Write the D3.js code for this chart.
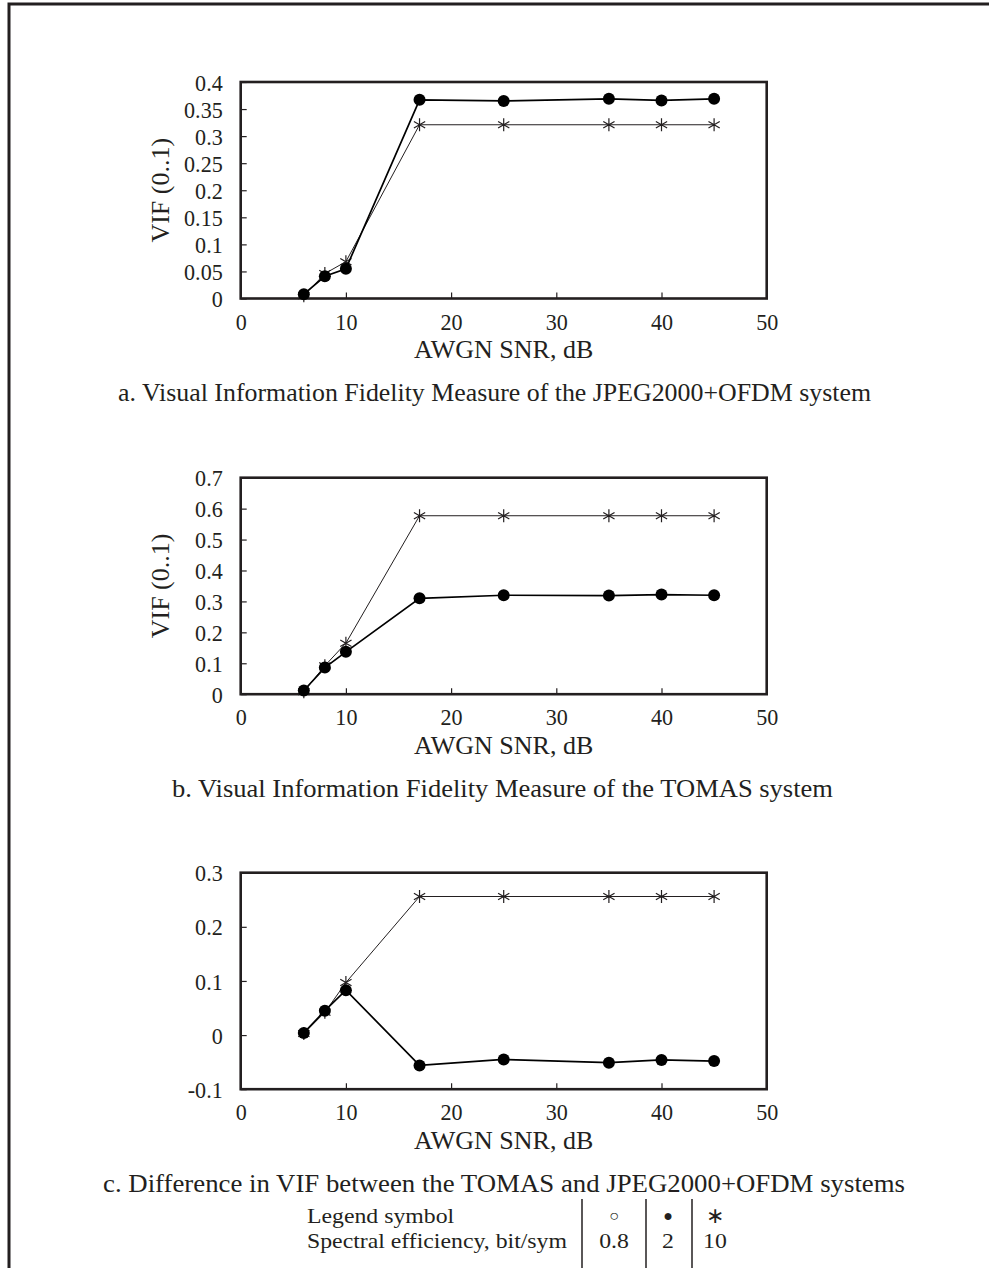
<!DOCTYPE html>
<html>
<head>
<meta charset="utf-8">
<script src="https://cdn.jsdelivr.net/npm/d3@7"></script>
<style>
  html, body { margin: 0; padding: 0; background: #fff; }
  svg text { font-family: "Liberation Serif", "Times New Roman", serif; fill: #231f20; }
</style>
</head>
<body>
<svg id="fig" width="989" height="1268"></svg>
<script>
// SNR points shared by every panel (dB)
const snr = [6, 8, 10, 17, 25, 35, 40, 45];
const xTicks = [0, 10, 20, 30, 40, 50];

// Panel a: JPEG2000+OFDM
const vifJpegQam = [0.008, 0.041, 0.055, 0.367, 0.365, 0.369, 0.366, 0.369];   // 2 bit/sym
const vifJpegHigh = [0.005, 0.046, 0.068, 0.321, 0.321, 0.321, 0.321, 0.321];  // 10 bit/sym
const ticksA = [0, 0.05, 0.1, 0.15, 0.2, 0.25, 0.3, 0.35, 0.4];

// Panel b: TOMAS
const vifTomasQam = [0.012, 0.086, 0.137, 0.310, 0.320, 0.319, 0.322, 0.320];
const vifTomasHigh = [0.008, 0.092, 0.165, 0.577, 0.577, 0.577, 0.577, 0.577];
const ticksB = [0, 0.1, 0.2, 0.3, 0.4, 0.5, 0.6, 0.7];

// Panel c: TOMAS minus JPEG2000+OFDM
const vifDiffQam = [0.004, 0.045, 0.083, -0.056, -0.045, -0.051, -0.046, -0.048];
const vifDiffHigh = [0.003, 0.042, 0.097, 0.256, 0.256, 0.256, 0.256, 0.256];
const ticksC = [-0.1, 0, 0.1, 0.2, 0.3];

const captions = [
  "a. Visual Information Fidelity Measure of the JPEG2000+OFDM system",
  "b. Visual Information Fidelity Measure of the TOMAS system",
  "c. Difference in VIF between the TOMAS and JPEG2000+OFDM systems"
];
const legendRows = ["Legend symbol", "Spectral efficiency, bit/sym"];
const legendSymbols = ["\u25CB", "\u25CF", "\u2217"];
const legendEfficiency = ["0.8", "2", "10"];

const ink = "#231f20";
const svg = d3.select("#fig");

// page frame, open to the right and bottom
svg.append("path")
  .attr("d", "M9,1280V4H1000")
  .attr("fill", "none").attr("stroke", ink).attr("stroke-width", 3);

const plotLeft = 240.7, plotRight = 766.7, plotH = 216.5;
const x = d3.scaleLinear().domain([0, 50]).range([plotLeft, plotRight]);
const fmt = v => String(+v.toFixed(2));

const panels = [
  { top: 82, domain: [0, 0.4], ticks: ticksA, qam: vifJpegQam, high: vifJpegHigh, yTitle: "VIF (0..1)", caption: captions[0], cx: 494.5, cw: 753 },
  { top: 477.7, domain: [0, 0.7], ticks: ticksB, qam: vifTomasQam, high: vifTomasHigh, yTitle: "VIF (0..1)", caption: captions[1], cx: 502.5, cw: 661 },
  { top: 872.7, domain: [-0.1, 0.3], ticks: ticksC, qam: vifDiffQam, high: vifDiffHigh, yTitle: null, caption: captions[2], cx: 504, cw: 802 }
];

// six-armed asterisk marker
function asterisk(r) {
  let p = "";
  for (let k = 0; k < 3; k++) {
    const a = Math.PI / 2 + k * Math.PI / 3;
    const dx = r * Math.cos(a), dy = r * Math.sin(a);
    p += `M${-dx},${-dy}L${dx},${dy}`;
  }
  return p;
}

// squeeze or widen a label horizontally by factor k
function fitWidth(sel, k) {
  sel.each(function () {
    const w = this.getComputedTextLength();
    d3.select(this).attr("textLength", w * k).attr("lengthAdjust", "spacingAndGlyphs");
  });
}

panels.forEach(p => {
  const bottom = p.top + plotH;
  const y = d3.scaleLinear().domain(p.domain).range([bottom, p.top]);
  const g = svg.append("g");

  // y axis: inward ticks, labels on the left
  const yAxis = d3.axisRight(y).tickValues(p.ticks).tickSize(6).tickFormat(fmt);
  const ya = g.append("g").attr("transform", `translate(${plotLeft},0)`).call(yAxis);
  ya.select(".domain").remove();
  ya.selectAll(".tick line").attr("stroke", ink).attr("stroke-width", 1.2);
  ya.selectAll(".tick text")
    .attr("x", -18).attr("text-anchor", "end")
    .attr("font-size", 23).attr("font-family", null).attr("dy", "0.35em")
    .call(fitWidth, 0.96);

  // x axis: inward ticks, labels below
  const xAxis = d3.axisTop(x).tickValues(xTicks).tickSize(6).tickFormat(d3.format("d"));
  const xa = g.append("g").attr("transform", `translate(0,${bottom})`).call(xAxis);
  xa.select(".domain").remove();
  xa.selectAll(".tick line").attr("stroke", ink).attr("stroke-width", 1.2)
    .filter(d => d === 0 || d === 50).remove();
  xa.selectAll(".tick text")
    .attr("y", 23).attr("dy", "0.35em")
    .attr("font-size", 23).attr("font-family", null)
    .call(fitWidth, 0.96);

  // plot frame
  g.append("rect")
    .attr("x", plotLeft).attr("y", p.top)
    .attr("width", plotRight - plotLeft).attr("height", plotH)
    .attr("fill", "none").attr("stroke", ink).attr("stroke-width", 2.6);

  const line = d3.line().x((d, i) => x(snr[i])).y(d => y(d));

  // 10 bit/sym series: thin line with asterisks
  g.append("path").datum(p.high).attr("d", line)
    .attr("fill", "none").attr("stroke", ink).attr("stroke-width", 1);
  g.selectAll(".star").data(p.high).join("path")
    .attr("class", "star")
    .attr("transform", (d, i) => `translate(${x(snr[i])},${y(d)})`)
    .attr("d", asterisk(6.5))
    .attr("stroke", ink).attr("stroke-width", 1.2).attr("fill", "none");

  // 2 bit/sym series: heavier line with filled circles
  g.append("path").datum(p.qam).attr("d", line)
    .attr("fill", "none").attr("stroke", "#000").attr("stroke-width", 1.7);
  g.selectAll(".dot").data(p.qam).join("circle")
    .attr("class", "dot")
    .attr("cx", (d, i) => x(snr[i])).attr("cy", d => y(d)).attr("r", 6)
    .attr("fill", "#000");

  // axis titles
  g.append("text")
    .attr("x", (plotLeft + plotRight) / 2).attr("y", bottom + 51).attr("dy", "0.35em")
    .attr("text-anchor", "middle").attr("font-size", 25)
    .call(s => s.text("AWGN SNR, dB"))
    .call(fitWidth, 1.04);
  if (p.yTitle) {
    g.append("text")
      .attr("transform", `translate(160,${p.top + plotH / 2}) rotate(-90)`)
      .attr("dy", "0.35em").attr("text-anchor", "middle").attr("font-size", 26)
      .text(p.yTitle);
  }

  // caption under the panel
  g.append("text")
    .attr("x", p.cx).attr("y", bottom + 94).attr("dy", "0.35em")
    .attr("text-anchor", "middle").attr("font-size", 25)
    .attr("textLength", p.cw).attr("lengthAdjust", "spacingAndGlyphs")
    .text(p.caption);
});

// legend table
const leg = svg.append("g");
const rowY = [1215, 1240];
const colX = [614, 668, 715];
const barX = [582, 646, 692];
legendRows.forEach((t, i) => {
  leg.append("text").attr("x", 307).attr("y", rowY[i]).attr("dy", "0.35em")
    .attr("font-size", 22).text(t).call(fitWidth, 1.08);
});
legendSymbols.forEach((s, i) => {
  leg.append("text").attr("x", colX[i]).attr("y", rowY[0]).attr("dy", "0.35em")
    .attr("text-anchor", "middle").attr("font-size", i === 2 ? 22 : 16).text(s);
});
legendEfficiency.forEach((s, i) => {
  leg.append("text").attr("x", colX[i]).attr("y", rowY[1]).attr("dy", "0.35em")
    .attr("text-anchor", "middle").attr("font-size", 22).text(s).call(fitWidth, 1.08);
});
barX.forEach(bx => {
  leg.append("line").attr("x1", bx).attr("x2", bx).attr("y1", 1199).attr("y2", 1268)
    .attr("stroke", ink).attr("stroke-width", 1.5);
});
</script>
</body>
</html>
